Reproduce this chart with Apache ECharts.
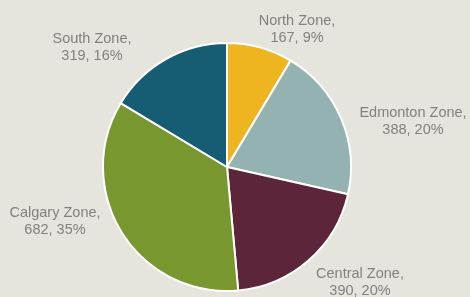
<!DOCTYPE html>
<html>
<head>
<meta charset="utf-8">
<script src="https://cdn.jsdelivr.net/npm/echarts@6/dist/echarts.min.js"></script>
<style>
html,body{margin:0;padding:0;background:#e5e4dd;}
#chart{width:470px;height:297px;}
</style>
</head>
<body>
<div id="chart"></div>
<script>
var zones = ['North Zone', 'Edmonton Zone', 'Central Zone', 'Calgary Zone', 'South Zone'];
var counts = [167, 388, 390, 682, 319];
var percents = [9, 20, 20, 35, 16];
var colors = ['#efb521', '#95b2b3', '#5c2539', '#78972f', '#165c72'];
// label anchor points (centre of the two-line text)
var labelX = [297, 413, 360, 55, 92];
var labelY = [29, 121, 282, 221, 47];

var chart = echarts.init(document.getElementById('chart'));
chart.setOption({
    backgroundColor: '#e5e4dd',
    animation: false,
    series: [{
        type: 'pie',
        center: [227, 167],
        radius: 124,
        startAngle: 90,
        data: zones.map(function (z, i) {
            return {name: z, value: counts[i], itemStyle: {color: colors[i]}};
        }),
        itemStyle: {borderColor: '#ffffff', borderWidth: 2},
        label: {
            show: true,
            position: 'outside',
            edgeDistance: 0,
            overflow: 'none',
            formatter: function (p) {
                return p.name + ',\n' + counts[p.dataIndex] + ', ' + percents[p.dataIndex] + '%';
            },
            color: '#818180',
            fontFamily: 'Liberation Sans, Arial, sans-serif',
            fontSize: 14.5,
            lineHeight: 17,
            align: 'center'
        },
        labelLine: {show: false},
        labelLayout: function (p) {
            return {
                x: labelX[p.dataIndex],
                y: labelY[p.dataIndex],
                align: 'center',
                verticalAlign: 'middle'
            };
        }
    }]
});
</script>
</body>
</html>
